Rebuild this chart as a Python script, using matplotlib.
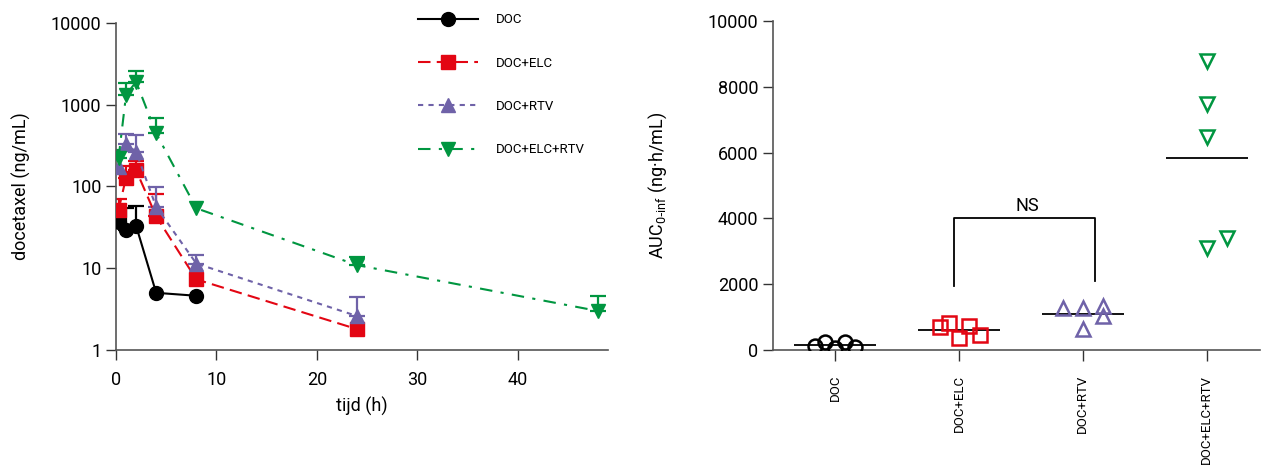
import numpy as np
import matplotlib
matplotlib.use("Agg")
import matplotlib.pyplot as plt

plt.rcParams['font.family'] = ['Roboto', 'DejaVu Sans']

# --- left panel: concentration-time curves (mean + upper SD)
groups = ["DOC", "DOC+ELC", "DOC+RTV", "DOC+ELC+RTV"]

t_doc = [0.25, 1, 2, 4, 8]
doc_mean = [37, 29, 33, 5.0, 4.6]
doc_err = [0, 25, 24, 0, 0]

t_elc = [0.25, 1, 2, 4, 8, 24]
elc_mean = [51, 128, 158, 43, 7.3, 1.8]
elc_err = [19, 50, 46, 37, 0, 0]

t_rtv = [0.25, 1, 2, 4, 8, 24]
rtv_mean = [174, 329, 265, 56, 11.4, 2.6]
rtv_err = [0, 102, 159, 42, 3.0, 1.8]

t_both = [0.25, 1, 2, 4, 8, 24, 48]
both_mean = [219, 1306, 1900, 444, 54, 10.9, 3.0]
both_err = [59, 508, 670, 233, 0, 2.7, 1.6]

# --- right panel: individual AUC values
auc_doc = [131, 234, 52, 234, 82]
auc_elc = [690, 811, 374, 739, 447]
auc_rtv = [1267, 1267, 629, 1337, 1033]
auc_both = [8793, 7467, 6483, 3109, 3395]
jitter_doc = [-0.16, -0.08, 0, 0.08, 0.16]
jitter_elc = [-0.15, -0.08, 0, 0.08, 0.17]
jitter_rtv = [-0.16, 0, 0, 0.16, 0.16]
jitter_both = [0, 0, 0, 0, 0.16]

colors = ["black", "#e30613", "#6f62a8", "#009640"]
markers = ["o", "s", "^", "v"]
styles = ["-", (0, (6, 3)), (0, (2.5, 2.5)), (0, (6, 4, 1.5, 4))]

fig = plt.figure(figsize=(12.61, 4.68), dpi=100)
ax1 = fig.add_axes([116 / 1261, 1 - 350 / 468, (608 - 116) / 1261, (350 - 22.7) / 468])
ax2 = fig.add_axes([773 / 1261, 1 - 350 / 468, (1260 - 773) / 1261, (350 - 21) / 468])

series = [(t_doc, doc_mean, doc_err), (t_elc, elc_mean, elc_err),
          (t_rtv, rtv_mean, rtv_err), (t_both, both_mean, both_err)]

for (t, m, e), g, c, mk, ls in zip(series, groups, colors, markers, styles):
    t = np.array(t)
    m = np.array(m)
    e = np.array(e)
    keep = e > 0
    ax1.errorbar(t[keep], m[keep], yerr=[np.zeros(keep.sum()), e[keep]],
                 fmt="none", ecolor=c, elinewidth=1.6, capsize=6, capthick=1.6,
                 zorder=2)
    ax1.plot(t, m, color=c, linestyle=ls, linewidth=1.5, marker=mk,
             markersize=10, label=g, zorder=3)

ax1.set_yscale("log")
ax1.set_ylim(1, 10000)
ax1.set_xlim(0, 49)
ax1.set_xticks([0, 10, 20, 30, 40])
ax1.set_yticks([1, 10, 100, 1000, 10000])
ax1.set_yticklabels(["1", "10", "100", "1000", "10000"])
ax1.minorticks_off()
ax1.set_xlabel("tijd (h)", fontsize=13, labelpad=6)
ax1.set_ylabel("docetaxel (ng/mL)", fontsize=13, labelpad=14)

leg = ax1.legend(loc="upper left", bbox_to_anchor=(413 / 1261, 1 - 8 / 468),
                 bbox_transform=fig.transFigure, frameon=False, fontsize=9.5,
                 handlelength=4.5, labelspacing=2.3, handletextpad=1.35,
                 borderaxespad=0)

# right panel
auc_sets = [auc_doc, auc_elc, auc_rtv, auc_both]
jitters = [jitter_doc, jitter_elc, jitter_rtv, jitter_both]
for i, (vals, jit, c, mk) in enumerate(zip(auc_sets, jitters, colors, markers)):
    x = i + 1 + np.array(jit)
    ax2.plot(x, vals, linestyle="none", marker=mk, markersize=10,
             markerfacecolor="none", markeredgecolor=c, markeredgewidth=1.8,
             zorder=3)
    ax2.hlines(np.mean(vals), i + 1 - 0.33, i + 1 + 0.33, color="black",
               linewidth=1.3, zorder=2)

# NS bracket
ax2.plot([1.96, 1.96, 3.10, 3.10], [1950, 4000, 4000, 2100], color="black",
         linewidth=1.3)
ax2.text(2.55, 4100, "NS", ha="center", va="bottom", fontsize=13)

ax2.set_xlim(0.5, 4.43)
ax2.set_ylim(0, 10000)
ax2.set_yticks([0, 2000, 4000, 6000, 8000, 10000])
ax2.set_xticks([1, 2, 3, 4])
ax2.set_xticklabels(groups, rotation=90, fontsize=9.5)
ax2.set_ylabel("AUC$_{\\mathregular{0\\text{-}inf}}$ (ng·h/mL)", fontsize=13, labelpad=28)

for ax in (ax1, ax2):
    ax.spines["top"].set_visible(False)
    ax.spines["right"].set_visible(False)
    for s in ("left", "bottom"):
        ax.spines[s].set_color("#555555")
        ax.spines[s].set_linewidth(1.2)
    ax.tick_params(axis="y", labelsize=13, length=7, width=1, color="#333333")
    ax.tick_params(axis="x", length=7, width=1, color="#333333")
ax1.tick_params(axis="x", labelsize=13, pad=8)
ax2.tick_params(axis="x", length=8, pad=10)

fig.savefig("out.png", dpi=100)
